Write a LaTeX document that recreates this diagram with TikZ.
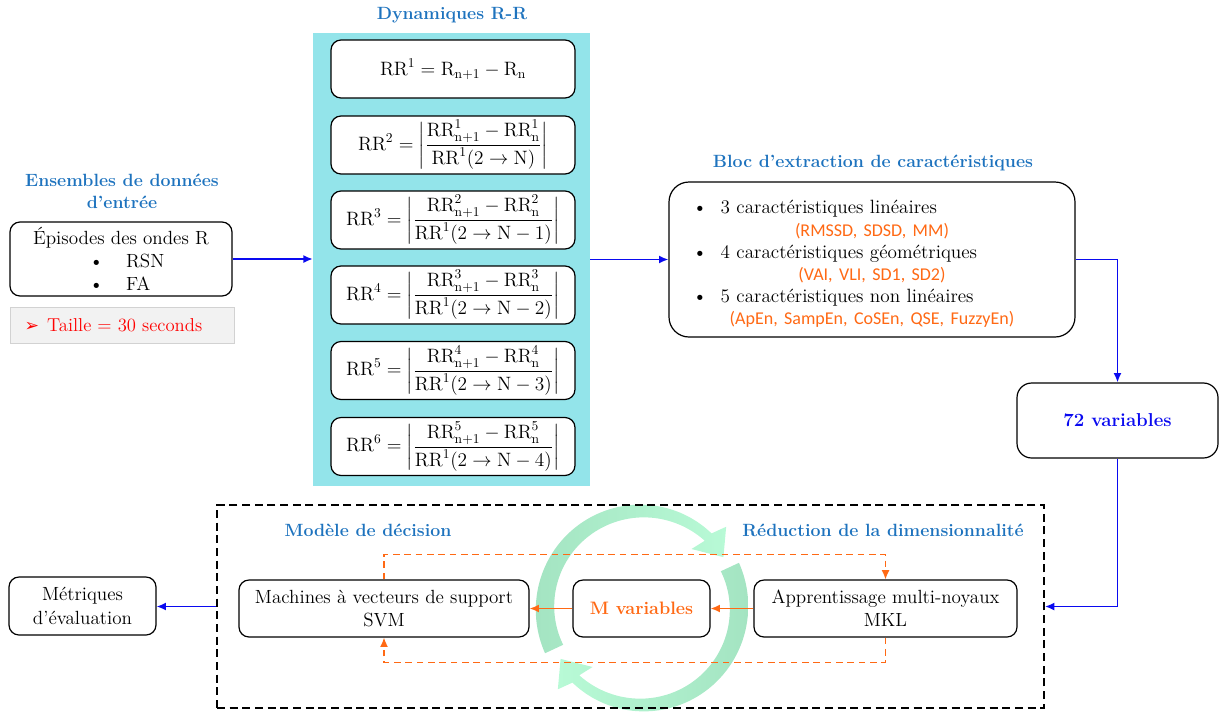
\RequirePackage{fix-cm}
\documentclass[tikz,border=0pt]{standalone}
\usepackage{amsmath}
\usepackage{fontspec}
\newfontfamily\dejavu{DejaVu Sans}
\newfontfamily\carlito{Carlito}
\usetikzlibrary{arrows.meta}
\definecolor{ttlc}{RGB}{30,115,190}
\definecolor{org}{RGB}{255,105,20}
\definecolor{arb}{RGB}{10,10,240}
\definecolor{cyanp}{RGB}{147,228,234}
\definecolor{grnd}{RGB}{164,228,194}
\definecolor{grnl}{RGB}{184,250,214}
\definecolor{tgray}{RGB}{242,242,242}
\newcommand\rrfrac[3]{\(\displaystyle\mathrm{RR}^{#1} = \left|\frac{\mathrm{RR}^{#2}_{\mathrm{n+1}} - \mathrm{RR}^{#2}_{\mathrm{n}}}{\mathrm{RR}^{1}(2 \rightarrow \mathrm{N}#3)}\right|\)}
\newcommand\orgline[1]{\makebox[\linewidth]{\color{org}\carlito\fontsize{13.5}{16.6}\selectfont #1}}
\tikzset{
 box/.style={draw=black, line width=0.9pt, rounded corners=7.5pt, fill=white, align=center, inner sep=0pt, font=\fontsize{14.3}{17.5}\selectfont},
 eqbox/.style={box, minimum width=183pt, minimum height=43.5pt, font=\fontsize{14.5}{17}\selectfont},
 ttl/.style={text=ttlc, font=\fontsize{13.3}{16.5}\selectfont\bfseries, align=center},
 barrow/.style={draw=arb, line width=1.2pt, -{Latex[length=7pt,width=6pt]}},
 oarrow/.style={draw=org, line width=1.1pt, -{Latex[length=7pt,width=6pt]}},
 odash/.style={draw=org, line width=1pt, dash pattern=on 5pt off 3.5pt},
}
\begin{document}
\begin{tikzpicture}[x=0.75pt,y=-0.75pt]
\useasboundingbox (0,0) rectangle (1219,711);
% green circular arrows
\begin{scope}[shift={(642,608)}, yscale=-1]
 \shade[left color=grnd, right color=grnl]
  plot[domain=205:47, samples=60] ({(102+5*(\x-47)/158)*cos(\x)},{(102+5*(\x-47)/158)*sin(\x)})
  -- (44:117) -- (32:96) -- (50:77)
  -- plot[domain=47:205, samples=60] ({(92-5*(\x-47)/158)*cos(\x)},{(92-5*(\x-47)/158)*sin(\x)})
  -- cycle;
 \begin{scope}[rotate=180]
 \shade[left color=grnl, right color=grnd]
  plot[domain=205:47, samples=60] ({(102+5*(\x-47)/158)*cos(\x)},{(102+5*(\x-47)/158)*sin(\x)})
  -- (44:117) -- (32:96) -- (50:77)
  -- plot[domain=47:205, samples=60] ({(92-5*(\x-47)/158)*cos(\x)},{(92-5*(\x-47)/158)*sin(\x)})
  -- cycle;
 \end{scope}
\end{scope}
% titles
\node[ttl] (t1) at (122,191) {Ensembles de données\\d'entrée};
\node[ttl] (t2) at (452,15) {Dynamiques R-R};
\node[ttl] (t3) at (873,163) {Bloc d'extraction de caractéristiques};
\node[ttl] (t4) at (368,530) {Modèle de décision};
\node[ttl] (t5) at (883,530) {Réduction de la dimensionnalité};
% input
\node[box, minimum width=166.5pt, minimum height=55.5pt] (inp) at (121,259)
 {Épisodes des ondes R\\\makebox[48pt][l]{\textbullet\hspace{17pt}RSN}\\\makebox[48pt][l]{\textbullet\hspace{17pt}FA}};
\node[draw=gray!35, fill=tgray, minimum width=168pt, minimum height=27pt, inner sep=0pt, text=red, font=\fontsize{14}{17}\selectfont] (taille) at (122,325)
 {\makebox[150pt][l]{\hspace*{2pt}{\dejavu\fontsize{13}{15}\selectfont ➢}\hspace{6pt}Taille = 30 seconds}};
% panel
\node[fill=cyanp, minimum width=207.75pt, minimum height=339.75pt, inner sep=0pt] (panel) at (451.5,259.5) {};
\node[eqbox] (rr1) at (453,69) {\(\mathrm{RR}^{1} = \mathrm{R}_{\mathrm{n+1}} - \mathrm{R}_{\mathrm{n}}\)};
\node[eqbox] (rr2) at (453,145) {\rrfrac{2}{1}{}};
\node[eqbox] (rr3) at (453,220) {\rrfrac{3}{2}{-1}};
\node[eqbox] (rr4) at (453,295) {\rrfrac{4}{3}{-2}};
\node[eqbox] (rr5) at (453,370.5) {\rrfrac{5}{4}{-3}};
\node[eqbox] (rr6) at (453,446.5) {\rrfrac{6}{5}{-4}};
% features
\node[box, rounded corners=15pt, minimum width=304.5pt, minimum height=116.25pt] (feat) at (872,259.5) {};
\node[text width=285pt, align=left, inner sep=0pt, font=\fontsize{14.4}{16.6}\selectfont] (feattxt) at (872,264)
 {\hspace*{8pt}\textbullet\hspace{10pt}3 caractéristiques linéaires\\
  \orgline{(RMSSD, SDSD, MM)}\\
  \hspace*{8pt}\textbullet\hspace{10pt}4 caractéristiques géométriques\\
  \orgline{(VAI, VLI, SD1, SD2)}\\
  \hspace*{8pt}\textbullet\hspace{10pt}5 caractéristiques non linéaires\\
  \orgline{(ApEn, SampEn, CoSEn, QSE, FuzzyEn)}};
\node[box, rounded corners=11pt, minimum width=150.75pt, minimum height=56.25pt, text=arb, font=\fontsize{14}{17}\selectfont\bfseries] (v72) at (1117.5,420.5) {72 variables};
% bottom frame
\node[draw=black, line width=1.5pt, dash pattern=on 6pt off 3.5pt, minimum width=620.25pt, minimum height=152.25pt, inner sep=0pt] (frame) at (630.5,606.5) {};
\node[box, minimum width=217.5pt, minimum height=42.75pt] (svm) at (384,608.5) {Machines à vecteurs de support\\SVM};
\node[box, minimum width=102.75pt, minimum height=42.75pt, text=org, font=\fontsize{13.5}{17}\selectfont\bfseries] (mvar) at (641.5,608.5) {M variables};
\node[box, minimum width=197.25pt, minimum height=42.75pt] (mkl) at (885.5,608.5) {Apprentissage multi-noyaux\\MKL};
\node[box, minimum width=110.25pt, minimum height=43.5pt] (metr) at (82.5,606) {Métriques\\d'évaluation};
% connectors
\draw[barrow] (inp.east) -- (inp.east -| panel.west);
\draw[barrow] (panel.east) -- (feat.west);
\draw[barrow] (feat.east) -| (v72.north);
\draw[barrow] (v72.south) |- (frame.east);
\draw[barrow] (frame.west) -- (frame.west -| metr.east);
\draw[oarrow] (mkl.west) -- (mvar.east);
\draw[oarrow] (mvar.west) -- (svm.east);
\draw[odash, -{Latex[length=7pt,width=6pt]}] (svm.north) -- ++(0,-25) -| (mkl.north);
\draw[odash, -{Latex[length=7pt,width=6pt]}] (mkl.south) -- ++(0,25) -| (svm.south);
\end{tikzpicture}
\end{document}
